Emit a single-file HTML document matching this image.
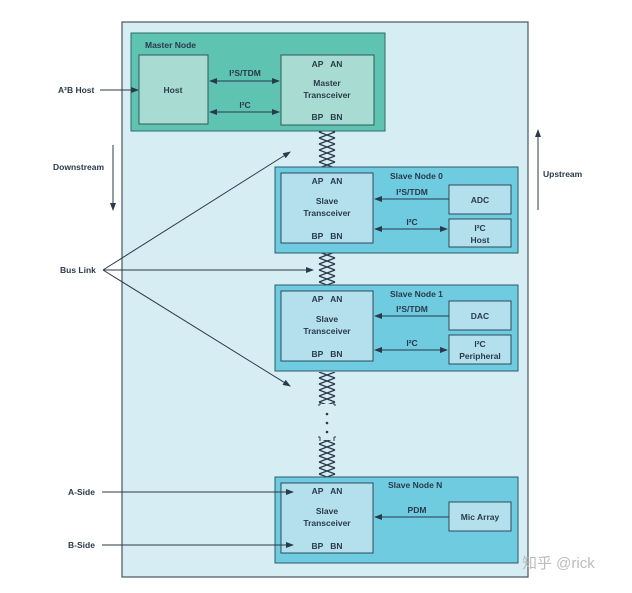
<!DOCTYPE html><html><head><style>body{margin:0;background:#fff}text{font-family:"Liberation Sans","Noto Sans CJK SC",sans-serif;font-weight:bold;font-size:8.5px;fill:#2a3a4a;white-space:pre}</style></head><body>
<svg width="632" height="588" xmlns="http://www.w3.org/2000/svg">
<defs><marker id="a" markerWidth="8" markerHeight="6" refX="7" refY="3" orient="auto-start-reverse"><path d="M0,0L8,3L0,6z" fill="#2a3a4a"/></marker>
<pattern id="tw" x="318" y="0" width="18" height="6" patternUnits="userSpaceOnUse"><path d="M1,0L17,6M17,0L1,6" stroke="#2a3a4a" stroke-width="1.3"/></pattern></defs>
<rect x="122" y="22" width="406" height="555" fill="#d6edf3" stroke="#4a5560" stroke-width="1.2"/>
<rect x="131" y="33" width="254" height="98" fill="#5fc3b2" stroke="#2d6d6a"/>
<text x="145" y="48">Master Node</text>
<rect x="139" y="55" width="69" height="69" fill="#a8dcd2" stroke="#2d5a5a"/>
<text x="173" y="93" text-anchor="middle">Host</text>
<rect x="281" y="55" width="93" height="70" fill="#a8dcd2" stroke="#2d5a5a"/>
<text x="327" y="67" text-anchor="middle">AP   AN</text><text x="327" y="86" text-anchor="middle">Master</text><text x="327" y="98" text-anchor="middle">Transceiver</text><text x="327" y="120" text-anchor="middle">BP   BN</text>
<line x1="210" y1="81" x2="279" y2="81" stroke="#2a3a4a" marker-start="url(#a)" marker-end="url(#a)"/><text x="245" y="76" text-anchor="middle">I²S/TDM</text>
<line x1="210" y1="112" x2="279" y2="112" stroke="#2a3a4a" marker-start="url(#a)" marker-end="url(#a)"/><text x="245" y="108" text-anchor="middle">I²C</text>
<g>
<rect x="318" y="131" width="18" height="36" fill="url(#tw)"/>
<rect x="318" y="253" width="18" height="32" fill="url(#tw)"/>
<rect x="318" y="372" width="18" height="32" fill="url(#tw)"/>
<rect x="318" y="440" width="18" height="37" fill="url(#tw)"/>
<path d="M320,405v-4M334,405v-4M320,405h-2M334,405h2M320,437v4M334,437v4M320,437h-2M334,437h2" stroke="#2a3a4a"/>
<circle cx="327" cy="414" r="1.3" fill="#2a3a4a"/><circle cx="327" cy="423" r="1.3" fill="#2a3a4a"/><circle cx="327" cy="432" r="1.3" fill="#2a3a4a"/>
</g>
<g id="s">
<rect x="275" y="167" width="243" height="86" fill="#6ecbe0" stroke="#2d5a6a"/>
<rect x="281" y="173" width="92" height="70" fill="#b3e0ec" stroke="#2d4a5a"/>
<text x="327" y="184" text-anchor="middle">AP   AN</text><text x="327" y="204" text-anchor="middle">Slave</text><text x="327" y="216" text-anchor="middle">Transceiver</text><text x="327" y="239" text-anchor="middle">BP   BN</text>
</g>
<text x="390" y="179">Slave Node 0</text>
<rect x="449" y="185" width="62" height="29" fill="#b3e0ec" stroke="#2d4a5a"/><text x="480" y="203" text-anchor="middle">ADC</text>
<rect x="449" y="219" width="62" height="28" fill="#b3e0ec" stroke="#2d4a5a"/><text x="480" y="231" text-anchor="middle">I²C</text><text x="480" y="243" text-anchor="middle">Host</text>
<line x1="449" y1="199" x2="375" y2="199" stroke="#2a3a4a" marker-end="url(#a)"/><text x="412" y="195" text-anchor="middle">I²S/TDM</text>
<line x1="375" y1="229" x2="447" y2="229" stroke="#2a3a4a" marker-start="url(#a)" marker-end="url(#a)"/><text x="412" y="225" text-anchor="middle">I²C</text>
<use href="#s" y="118"/>
<text x="390" y="297">Slave Node 1</text>
<rect x="449" y="301" width="62" height="29" fill="#b3e0ec" stroke="#2d4a5a"/><text x="480" y="319" text-anchor="middle">DAC</text>
<rect x="449" y="335" width="62" height="29" fill="#b3e0ec" stroke="#2d4a5a"/><text x="480" y="347" text-anchor="middle">I²C</text><text x="480" y="359" text-anchor="middle">Peripheral</text>
<line x1="449" y1="316" x2="375" y2="316" stroke="#2a3a4a" marker-end="url(#a)"/><text x="412" y="312" text-anchor="middle">I²S/TDM</text>
<line x1="375" y1="350" x2="447" y2="350" stroke="#2a3a4a" marker-start="url(#a)" marker-end="url(#a)"/><text x="412" y="346" text-anchor="middle">I²C</text>
<use href="#s" y="310"/>
<text x="388" y="488">Slave Node N</text>
<rect x="449" y="502" width="62" height="29" fill="#b3e0ec" stroke="#2d4a5a"/><text x="480" y="520" text-anchor="middle">Mic Array</text>
<line x1="449" y1="517" x2="375" y2="517" stroke="#2a3a4a" marker-end="url(#a)"/><text x="417" y="513" text-anchor="middle">PDM</text>
<text x="58" y="93">A²B Host</text><line x1="100" y1="90" x2="138" y2="90" stroke="#2a3a4a" marker-end="url(#a)"/>
<text x="53" y="170">Downstream</text><line x1="113" y1="145" x2="113" y2="210" stroke="#2a3a4a" marker-end="url(#a)"/>
<text x="543" y="177">Upstream</text><line x1="538" y1="210" x2="538" y2="130" stroke="#2a3a4a" marker-end="url(#a)"/>
<text x="60" y="273">Bus Link</text>
<g stroke="#2a3a4a" marker-end="url(#a)"><line x1="103" y1="270" x2="290" y2="152"/><line x1="103" y1="270" x2="313" y2="270"/><line x1="103" y1="270" x2="290" y2="386"/></g>
<text x="68" y="495">A-Side</text><line x1="102" y1="492" x2="293" y2="492" stroke="#2a3a4a" marker-end="url(#a)"/>
<text x="68" y="548">B-Side</text><line x1="102" y1="545" x2="293" y2="545" stroke="#2a3a4a" marker-end="url(#a)"/>
<text x="522" y="568" style="font-size:15px;font-weight:normal;fill:#bbb">知乎 @rick</text>
</svg></body></html>
